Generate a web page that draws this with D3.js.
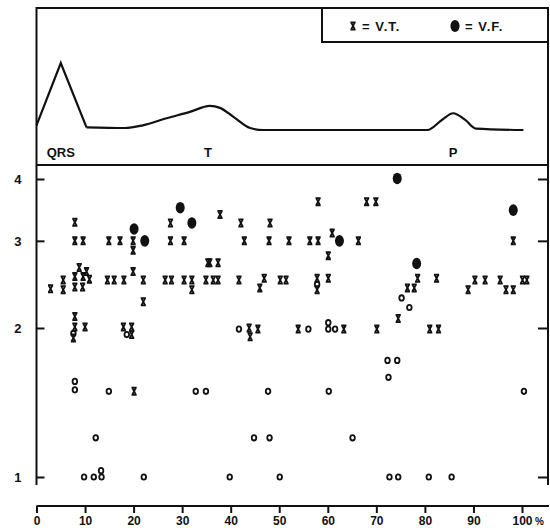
<!DOCTYPE html>
<html>
<head>
<meta charset="utf-8">
<script src="https://cdn.jsdelivr.net/npm/d3@7"></script>
<style>
  body { margin: 0; background: #fff; }
  svg { display: block; }
</style>
</head>
<body>
<div id="chart"></div>
<script>
// --- data ---------------------------------------------------------------

// ECG outline (percent of cycle, relative amplitude)
const qrsPct = [0, 5.0, 10.3];
const qrsAmp = [0.07, 1.0, 0.04];
const wavePct = [10.3, 18.2, 21.9, 26.8, 31.6, 35.7, 37.8, 40.5, 44.0, 46.7, 80.5, 83.5, 85.8, 88.3, 90.5, 100.3];
const waveAmp = [0.04, 0.03, 0.07, 0.175, 0.27, 0.36, 0.33, 0.2, 0.03, 0, 0, 0.15, 0.25, 0.15, 0.02, 0];
const waveLabels = ['QRS', 'T', 'P'];
const waveLabelPct = [5.0, 35.3, 85.8];

// x = V.T. (percent of cycle, value)
const vtPoints = [
  [2.9, 2.40], [5.5, 2.50], [5.5, 2.39],
  [7.9, 3.27], [7.9, 3.0], [9.6, 3.0],
  [7.9, 2.54], [8.8, 2.65], [9.6, 2.54], [10.3, 2.60], [10.9, 2.51], [7.9, 2.42], [9.5, 2.42],
  [14.6, 2.5], [16.0, 2.5], [18.0, 2.5], [19.9, 2.60], [22.0, 2.5], [22.0, 2.26],
  [14.9, 3.0], [17.2, 3.0], [19.9, 3.0], [19.9, 2.87],
  [27.6, 3.26], [27.6, 3.0], [30.4, 3.0],
  [26.5, 2.5], [27.8, 2.5], [30.4, 2.5], [32.0, 2.5], [32.0, 2.39], [34.9, 2.5], [35.3, 2.71],
  [7.9, 2.11], [7.9, 2.01], [10.0, 2.01], [17.9, 2.01], [19.6, 2.01],
  [7.6, 1.91], [19.6, 1.94], [20.1, 1.49],
  [37.8, 3.39], [42.1, 3.26], [48.1, 3.26], [58.0, 3.60], [68.0, 3.60], [69.9, 3.60],
  [42.8, 3.0], [47.9, 3.0], [52.0, 3.0], [56.3, 3.0], [58.0, 3.0], [60.9, 3.11], [66.3, 3.0], [60.1, 2.80],
  [35.7, 2.71], [37.4, 2.71],
  [36.4, 2.5], [37.4, 2.5], [41.7, 2.5], [46.9, 2.52], [46.0, 2.41], [50.2, 2.5], [51.4, 2.5],
  [57.8, 2.52], [57.8, 2.39], [60.1, 2.52],
  [43.8, 2.0], [44.0, 1.92], [45.6, 1.99], [53.9, 1.99], [63.3, 1.99], [70.1, 1.99],
  [98.2, 3.0],
  [78.5, 2.52], [82.4, 2.52], [76.4, 2.41], [77.8, 2.41], [74.5, 2.09], [81.0, 1.99], [82.8, 1.99],
  [88.9, 2.39], [90.3, 2.50], [92.4, 2.50], [95.5, 2.50], [96.7, 2.39], [98.2, 2.39], [100.1, 2.50], [101.0, 2.50]
];

// filled dot = V.F.
const vfPoints = [
  [20.1, 3.17], [22.3, 3.0], [29.6, 3.50], [32.0, 3.26], [62.4, 3.0], [74.3, 4.01], [78.3, 2.70], [98.2, 3.46]
];

// open circles (unlabelled in the key)
const oPoints = [
  [7.6, 1.95], [18.6, 1.94], [41.7, 1.99], [56.0, 1.99], [60.1, 2.05], [60.1, 1.99], [61.5, 1.99], [57.8, 2.45],
  [75.2, 2.30], [76.8, 2.20], [72.3, 1.72], [74.3, 1.72], [72.5, 1.59],
  [60.2, 1.49], [100.4, 1.49], [7.9, 1.56], [7.9, 1.50], [14.9, 1.49], [32.8, 1.49], [34.9, 1.49], [47.7, 1.49],
  [12.2, 1.20], [44.8, 1.20], [48.0, 1.20], [65.1, 1.20],
  [9.8, 1.0], [11.8, 1.0], [13.4, 1.0], [13.3, 1.03], [22.1, 1.0], [39.8, 1.0], [50.1, 1.0],
  [72.7, 1.0], [74.5, 1.0], [80.8, 1.0], [85.5, 1.0]
];

const xTicks = [0, 10, 20, 30, 40, 50, 60, 70, 80, 90, 100];
const yTicks = [1, 2, 3, 4];

// --- layout ---------------------------------------------------------------
const W = 550, H = 528;
const INK = '#111';
const FONT = '"Liberation Sans", Arial, Helvetica, sans-serif';
const frame = { left: 36.5, right: 548, top: 8, divider: 165, bottom: 485 };
const axisY = 506;

const svg = d3.select('#chart').append('svg')
  .attr('width', W).attr('height', H)
  .attr('viewBox', `0 0 ${W} ${H}`);

svg.append('rect').attr('width', W).attr('height', H).attr('fill', '#fff');

const x = d3.scaleLinear().domain([0, 100]).range([36.5, 522]);
const y = d3.scaleLog().domain([1, 4]).range([477, 179]);
const amp = d3.scaleLinear().domain([0, 1]).range([130, 63]);

// Frame: open at the bottom, divider under the ECG strip
svg.append('path')
  .attr('d', `M${frame.left},${frame.bottom}V${frame.top}H${frame.right}V${frame.bottom}`)
  .attr('fill', 'none').attr('stroke', INK).attr('stroke-width', 2);
svg.append('line')
  .attr('x1', frame.left).attr('x2', frame.right)
  .attr('y1', frame.divider).attr('y2', frame.divider)
  .attr('stroke', INK).attr('stroke-width', 2);

// Legend box in the top right corner
svg.append('path')
  .attr('d', `M322,${frame.top}V42H${frame.right}`)
  .attr('fill', 'none').attr('stroke', INK).attr('stroke-width', 2);

const vtPath = 'M-2.6,-3.6H2.6M-2.6,3.6H2.6M-1.9,-3.6L1.9,3.6M1.9,-3.6L-1.9,3.6';

const legend = svg.append('g').attr('font-family', FONT).attr('font-weight', 'bold')
  .attr('font-size', 13).attr('fill', INK);
legend.append('path').attr('d', vtPath)
  .attr('transform', 'translate(353,26)')
  .attr('fill', 'none').attr('stroke', INK).attr('stroke-width', 1.8);
legend.append('text').attr('x', 362).attr('y', 31).attr('letter-spacing', 1).text('= V.T.');
legend.append('ellipse').attr('cx', 455).attr('cy', 26).attr('rx', 4.6).attr('ry', 6).attr('fill', INK);
legend.append('text').attr('x', 465).attr('y', 31).attr('letter-spacing', 1).text('= V.F.');

// ECG outline
const waveLine = d3.line().x(d => x(d[0])).y(d => amp(d[1]));
svg.append('path')
  .datum(d3.zip(qrsPct, qrsAmp))
  .attr('d', waveLine.curve(d3.curveLinear))
  .attr('fill', 'none').attr('stroke', INK).attr('stroke-width', 2.2)
  .attr('stroke-linejoin', 'miter');
svg.append('path')
  .datum(d3.zip(wavePct, waveAmp))
  .attr('d', waveLine.curve(d3.curveMonotoneX))
  .attr('fill', 'none').attr('stroke', INK).attr('stroke-width', 2.2);

svg.append('g').selectAll('text')
  .data(waveLabels)
  .join('text')
  .attr('x', (d, i) => x(waveLabelPct[i]))
  .attr('y', 157)
  .attr('text-anchor', 'middle')
  .attr('font-family', FONT).attr('font-weight', 'bold').attr('font-size', 13)
  .attr('fill', INK)
  .text(d => d);

// Axes
const styleAxis = g => {
  g.select('.domain').remove();
  g.selectAll('.tick line').attr('stroke', INK).attr('stroke-width', 2);
  g.selectAll('.tick text')
    .attr('fill', INK).attr('font-family', FONT)
    .attr('font-weight', 'bold');
};

svg.append('g')
  .attr('transform', `translate(${frame.left},0)`)
  .call(d3.axisLeft(y).tickValues(yTicks).tickFormat(d3.format('d'))
    .tickSizeInner(-8).tickSizeOuter(0).tickPadding(15))
  .call(styleAxis)
  .call(g => g.selectAll('.tick text').attr('font-size', 13));

svg.append('g')
  .attr('transform', `translate(${frame.right},0)`)
  .call(d3.axisRight(y).tickValues(yTicks).tickFormat('')
    .tickSizeInner(-10).tickSizeOuter(0))
  .call(styleAxis);

svg.append('line')
  .attr('x1', x(0)).attr('x2', 549)
  .attr('y1', axisY).attr('y2', axisY)
  .attr('stroke', INK).attr('stroke-width', 2);

svg.append('g')
  .attr('transform', `translate(0,${axisY})`)
  .call(d3.axisBottom(x).tickValues(xTicks).tickFormat(d3.format('d'))
    .tickSizeInner(7).tickSizeOuter(0).tickPadding(3))
  .call(styleAxis)
  .call(g => g.selectAll('.tick text').attr('font-size', 12));

svg.append('text')
  .attr('x', x(100) + 13).attr('y', axisY + 19)
  .attr('font-family', FONT).attr('font-weight', 'bold').attr('font-size', 10)
  .attr('fill', INK)
  .text('%');

// Marks
const marks = svg.append('g');

marks.selectAll('ellipse.o')
  .data(oPoints)
  .join('ellipse')
  .attr('class', 'o')
  .attr('cx', d => x(d[0])).attr('cy', d => y(d[1]))
  .attr('rx', 2.3).attr('ry', 2.7)
  .attr('fill', '#fff').attr('stroke', INK).attr('stroke-width', 1.8);

marks.selectAll('path.vt')
  .data(vtPoints)
  .join('path')
  .attr('class', 'vt')
  .attr('d', vtPath)
  .attr('transform', d => `translate(${x(d[0])},${y(d[1])})`)
  .attr('fill', 'none').attr('stroke', INK).attr('stroke-width', 1.8);

marks.selectAll('ellipse.vf')
  .data(vfPoints)
  .join('ellipse')
  .attr('class', 'vf')
  .attr('cx', d => x(d[0])).attr('cy', d => y(d[1]))
  .attr('rx', 4.5).attr('ry', 5.8)
  .attr('fill', INK);
</script>
</body>
</html>
